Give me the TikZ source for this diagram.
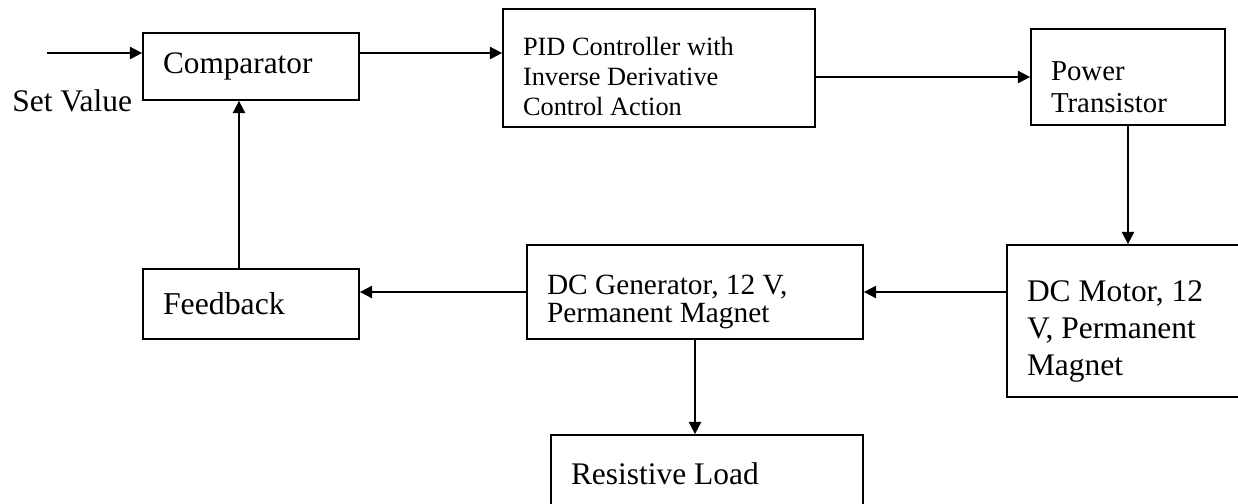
\documentclass[tikz,border=0pt]{standalone}
\usepackage{fontspec}
\setmainfont{Liberation Serif}
\usetikzlibrary{
    arrows.meta,
    positioning,
    calc
}
\newcommand{\fsz}[2]{\fontsize{#1}{#2}\selectfont}

\begin{document}
\begin{tikzpicture}[
        block/.style={draw, line width=1pt, inner xsep=0.4cm, inner ysep=0pt, align=flush left},
        lowered/.style={execute at begin node={\rule{0pt}{1.35em}}},
        arrow/.style={-{Triangle[length=7pt, width=7pt]}, line width=1pt}
    ]
        \useasboundingbox (0, 0) rectangle (24.76, -10.06);
        \clip (0, 0) rectangle (24.76, -10.06);

        % Input
        \coordinate (in) at (0.94, -1.06);
        \node[anchor=west, inner sep=0pt, font=\fsz{17.9pt}{20pt}] (set) at (0.24, -2.02) {Set Value};

        % Forward path
        \node[block, text width=3.52cm, minimum height=1.34cm, font=\fsz{17.8pt}{20pt}] (cmp) at (5.02, -1.33) {Comparator};
        \node[block, lowered, text width=5.44cm, minimum height=2.36cm, font=\fsz{15pt}{17pt}] (pid) at (13.18, -1.36) {
            PID Controller with\\Inverse Derivative\\Control Action
        };
        \node[block, lowered, text width=3.08cm, minimum height=1.92cm, font=\fsz{16.4pt}{18.1pt}] (pwr) at (22.56, -1.54) {
            Power\\Transistor
        };
        \node[block, lowered, text width=4.06cm, minimum height=3.04cm, font=\fsz{17.9pt}{21pt}] (mot) at (22.57, -6.42) {
            DC Motor, 12\\V, Permanent\\Magnet
        };

        % Generator, load and feedback
        \node[block, lowered, text width=5.92cm, minimum height=1.88cm, font=\fsz{16.7pt}{16.2pt}] (gen) at (13.9, -5.84) {
            DC Generator, 12 V,\\Permanent Magnet
        };
        \node[block, text width=5.44cm, minimum height=1.56cm, font=\fsz{17.9pt}{20pt}] (load) at (14.14, -9.48) {Resistive Load};
        \node[block, text width=3.52cm, minimum height=1.4cm, font=\fsz{18.1pt}{20pt}] (fb) at (5.02, -6.08) {Feedback};

        % Arrows
        \draw[arrow] (in) -- (in -| cmp.west);
        \draw[arrow] (in -| cmp.east) -- (in -| pid.west);
        \draw[arrow] (pid.east |- pwr) -- (pwr.west);
        \draw[arrow] (pwr.south) -- (pwr.south |- mot.north);
        \draw[arrow] (mot.west |- gen) -- (gen.east);
        \draw[arrow] (gen.west) -- (gen.west -| fb.east);
        \draw[arrow] (gen.south) -- (gen.south |- load.north);
        \draw[arrow] ([xshift=-0.24cm]fb.north) -- ([xshift=-0.24cm]cmp.south);
    \end{tikzpicture}
\end{document}
